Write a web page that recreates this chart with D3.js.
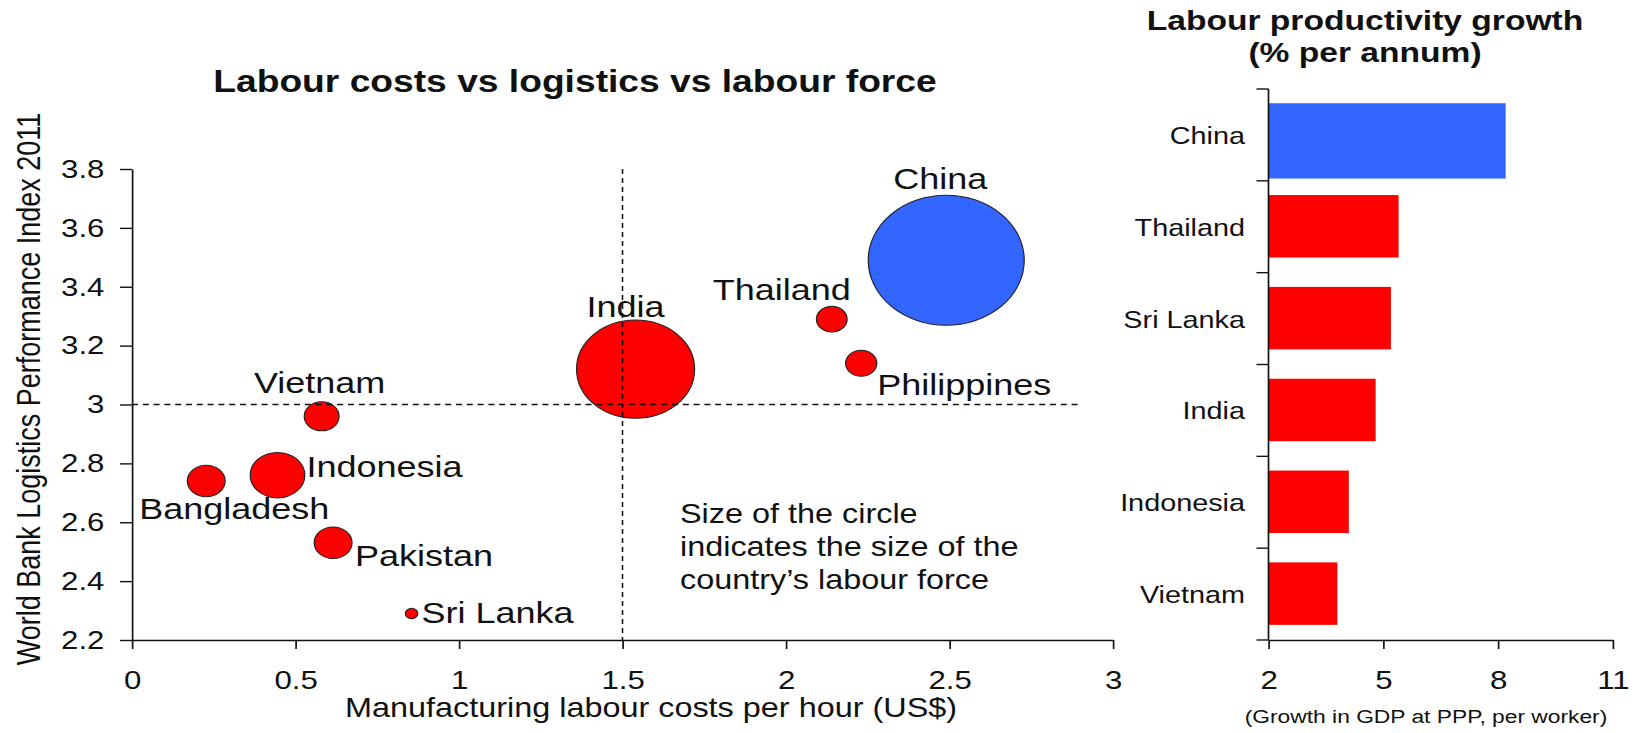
<!DOCTYPE html>
<html>
<head>
<meta charset="utf-8">
<script src="https://cdn.jsdelivr.net/npm/d3@7"></script>
<style>
  body { margin: 0; background: #fff; }
  text { font-family: "Liberation Sans", Arial, sans-serif; fill: #111; }
</style>
</head>
<body>
<script>
// scatter: labour cost vs logistics, bubble = labour force
var countries   = ["China", "India", "Thailand", "Philippines", "Vietnam", "Indonesia", "Bangladesh", "Pakistan", "Sri Lanka"];
var labourCost  = [2.49, 1.54, 2.14, 2.23, 0.58, 0.445, 0.227, 0.615, 0.855];
var lpiScore    = [3.49, 3.12, 3.29, 3.14, 2.96, 2.76, 2.74, 2.53, 2.29];
var labourForce = [800, 458, 31, 32, 40, 98, 47, 47, 5];
var xTicks = [0, 0.5, 1, 1.5, 2, 2.5, 3];
var yTicks = [2.2, 2.4, 2.6, 2.8, 3, 3.2, 3.4, 3.6, 3.8];

// bars: labour productivity growth
var barCountries = ["China", "Thailand", "Sri Lanka", "India", "Indonesia", "Vietnam"];
var productivity = [8.2, 5.4, 5.2, 4.8, 4.1, 3.8];
var barTicks = [2, 5, 8, 11];

var RED = "#ff0000", BLUE = "#3366ff";
var SX = 1.2; // the whole picture is stretched horizontally

// label offsets in screen px from bubble centre
var labelPos = {
  "China":       { dx: -6,  dy: -71, anchor: "middle" },
  "India":       { dx: -10, dy: -52, anchor: "middle" },
  "Thailand":    { dx: -50, dy: -19, anchor: "middle" },
  "Philippines": { dx: 16,  dy: 32,  anchor: "start" },
  "Vietnam":     { dx: -2,  dy: -23, anchor: "middle" },
  "Indonesia":   { dx: 29,  dy: 2,   anchor: "start" },
  "Bangladesh":  { dx: -67, dy: 38,  anchor: "start" },
  "Pakistan":    { dx: 22,  dy: 23,  anchor: "start" },
  "Sri Lanka":   { dx: 10,  dy: 10,  anchor: "start" }
};

var plain = function(d) { return String(d); };

var svg = d3.select("body").append("svg")
    .attr("width", 1639)
    .attr("height", 733);

var g = svg.append("g").attr("transform", "scale(" + SX + ",1)");

// ---------- scatter ----------
var x = d3.scaleLinear().domain([0, 3]).range([132 / SX, 1113 / SX]);
var y = d3.scaleLinear().domain([2.2, 3.8]).range([640, 169]);
var r = d3.scaleSqrt().domain([0, 800]).range([0, 65]);

var pts = countries.map(function(c, i) {
  return { name: c, cost: labourCost[i], lpi: lpiScore[i], force: labourForce[i] };
});

g.append("text")
    .attr("x", 575 / SX).attr("y", 92)
    .attr("text-anchor", "middle")
    .style("font-size", "31px").style("font-weight", "bold")
    .text("Labour costs vs logistics vs labour force");

var xAxis = g.append("g")
    .attr("transform", "translate(0," + y(2.2) + ")")
    .call(d3.axisBottom(x).tickValues(xTicks).tickFormat(plain)
      .tickSize(9).tickSizeOuter(0).tickPadding(22));

var yAxis = g.append("g")
    .attr("transform", "translate(" + x(0) + ",0)")
    .call(d3.axisLeft(y).tickValues(yTicks).tickFormat(plain)
      .tickSize(10).tickSizeOuter(0).tickPadding(13));

[xAxis, yAxis].forEach(function(a) {
  a.selectAll("path, line").attr("stroke", "#111").attr("stroke-width", 1.4);
  a.selectAll("text").style("font-size", "26px").attr("fill", "#111")
    .attr("font-family", null);
});

g.append("text")
    .attr("x", 651 / SX).attr("y", 717)
    .attr("text-anchor", "middle")
    .style("font-size", "27px")
    .text("Manufacturing labour costs per hour (US$)");

g.append("text")
    .attr("transform", "translate(" + (40 / SX) + ",389) rotate(-90)")
    .attr("text-anchor", "middle")
    .style("font-size", "27px")
    .text("World Bank Logistics Performance Index 2011");

g.append("g").selectAll("circle")
    .data(pts)
  .enter().append("circle")
    .attr("cx", function(d) { return x(d.cost); })
    .attr("cy", function(d) { return y(d.lpi); })
    .attr("r", function(d) { return r(d.force); })
    .attr("fill", function(d) { return d.name === "China" ? BLUE : RED; })
    .attr("stroke", "#222")
    .attr("stroke-width", 1);

// reference lines
g.append("line")
    .attr("x1", x(1.5)).attr("x2", x(1.5))
    .attr("y1", y(3.8)).attr("y2", y(2.2))
    .attr("stroke", "#111").attr("stroke-width", 1.3)
    .attr("stroke-dasharray", "5,4");

g.append("line")
    .attr("x1", x(0)).attr("x2", x(2.9))
    .attr("y1", y(3)).attr("y2", y(3))
    .attr("stroke", "#111").attr("stroke-width", 1.3)
    .attr("stroke-dasharray", "5,4");

g.append("g").selectAll("text")
    .data(pts)
  .enter().append("text")
    .attr("x", function(d) { return x(d.cost) + labelPos[d.name].dx / SX; })
    .attr("y", function(d) { return y(d.lpi) + labelPos[d.name].dy; })
    .attr("text-anchor", function(d) { return labelPos[d.name].anchor; })
    .style("font-size", "30px")
    .text(function(d) { return d.name; });

var note = ["Size of the circle", "indicates the size of the", "country\u2019s labour force"];
g.append("g").selectAll("text")
    .data(note)
  .enter().append("text")
    .attr("x", 680 / SX)
    .attr("y", function(d, i) { return 523 + i * 33; })
    .style("font-size", "27px")
    .text(function(d) { return d; });

// ---------- bars ----------
var bx = d3.scaleLinear().domain([2, 11]).range([1268.5 / SX, 1612.8 / SX]);
var by = d3.scaleBand().domain(barCountries).range([89, 640]);

var bars = barCountries.map(function(c, i) { return { name: c, value: productivity[i] }; });

g.append("text")
    .attr("x", 1365 / SX).attr("y", 30)
    .attr("text-anchor", "middle")
    .style("font-size", "28px").style("font-weight", "bold")
    .text("Labour productivity growth");
g.append("text")
    .attr("x", 1365 / SX).attr("y", 62)
    .attr("text-anchor", "middle")
    .style("font-size", "28px").style("font-weight", "bold")
    .text("(% per annum)");

g.append("g").selectAll("rect")
    .data(bars)
  .enter().append("rect")
    .attr("x", bx(2))
    .attr("y", function(d) { return by(d.name) + by.bandwidth() * 0.155; })
    .attr("height", function(d) { return by.bandwidth() * (d.name === "China" ? 0.82 : 0.68); })
    .attr("width", function(d) { return bx(d.value) - bx(2); })
    .attr("fill", function(d) { return d.name === "China" ? BLUE : RED; });

var bxAxis = g.append("g")
    .attr("transform", "translate(0,640)")
    .call(d3.axisBottom(bx).tickValues(barTicks).tickFormat(plain)
      .tickSize(9).tickSizeOuter(0).tickPadding(22));
bxAxis.selectAll("path, line").attr("stroke", "#111").attr("stroke-width", 1.4);
bxAxis.selectAll("text").style("font-size", "26px").attr("fill", "#111").attr("font-family", null);

// category axis with ticks between bands
var bounds = barCountries.map(function(c) { return by(c); }).concat([by.range()[1]]);
g.append("line")
    .attr("x1", bx(2)).attr("x2", bx(2))
    .attr("y1", by.range()[0]).attr("y2", by.range()[1])
    .attr("stroke", "#111").attr("stroke-width", 1.4);
g.append("g").selectAll("line")
    .data(bounds)
  .enter().append("line")
    .attr("x1", bx(2) - 10).attr("x2", bx(2))
    .attr("y1", function(d) { return d; })
    .attr("y2", function(d) { return d; })
    .attr("stroke", "#111").attr("stroke-width", 1.4);

g.append("g").selectAll("text")
    .data(barCountries)
  .enter().append("text")
    .attr("x", 1245 / SX)
    .attr("y", function(d) { return by(d) + by.bandwidth() / 2 + 9; })
    .attr("text-anchor", "end")
    .style("font-size", "24px")
    .text(function(d) { return d; });

g.append("text")
    .attr("x", 1426 / SX).attr("y", 723)
    .attr("text-anchor", "middle")
    .style("font-size", "19px")
    .text("(Growth in GDP at PPP, per worker)");
</script>
</body>
</html>
